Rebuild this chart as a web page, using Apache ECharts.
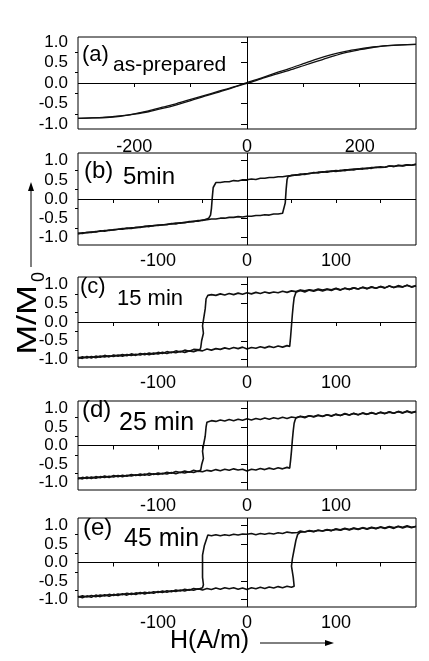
<!DOCTYPE html>
<html>
<head>
<meta charset="utf-8">
<script src="https://cdn.jsdelivr.net/npm/echarts@6/dist/echarts.min.js"></script>
<style>
  html, body { margin: 0; padding: 0; background: #fff; }
  #main { width: 429px; height: 661px; }
</style>
</head>
<body>
<div id="main"></div>
<script>
  // 面板标签
  var panelTags = ['(a)', '(b)', '(c)', '(d)', '(e)'];
  var panelNames = ['as-prepared', '5min', '15 min', '25 min', '45 min'];

  // 刻度
  var yLabelValues = [-1, -0.5, 0, 0.5, 1];
  var yMinorValues = [-0.75, -0.25, 0.25, 0.75];
  var xTicksWide = [-200, -100, 0, 100, 200];
  var xLabelsWide = [-200, 0, 200];
  var xTicksNarrow = [-150, -100, -50, 0, 50, 100, 150];
  var xLabelsNarrow = [-100, 0, 100];

  // (a) as-prepared  [H, M/M0]
  var aDescending = [[300,0.94],[275,0.93],[250,0.91],[225,0.88],[200,0.83],[175,0.77],[150,0.69],[125,0.59],[100,0.47],[75,0.35],[50,0.24],[25,0.12],[0,0.01],[-25,-0.10],[-50,-0.20],[-75,-0.30],[-100,-0.40],[-125,-0.50],[-150,-0.59],[-175,-0.68],[-200,-0.75],[-225,-0.80],[-250,-0.83],[-275,-0.85],[-300,-0.86]];
  var aAscending = [[-300,-0.86],[-275,-0.85],[-250,-0.84],[-225,-0.81],[-200,-0.76],[-175,-0.70],[-150,-0.62],[-125,-0.53],[-100,-0.43],[-75,-0.32],[-50,-0.22],[-25,-0.11],[0,-0.01],[25,0.10],[50,0.21],[75,0.31],[100,0.42],[125,0.53],[150,0.64],[175,0.74],[200,0.81],[225,0.87],[250,0.91],[275,0.93],[300,0.94]];

  // (b) 5min
  var bDescending = [[190,0.90],[185,0.88],[180,0.89],[175,0.86],[170,0.88],[165,0.85],[160,0.86],[155,0.83],[150,0.82],[145,0.83],[140,0.80],[135,0.81],[130,0.78],[125,0.79],[120,0.76],[115,0.77],[110,0.74],[105,0.75],[100,0.72],[95,0.73],[90,0.70],[85,0.71],[80,0.68],[75,0.69],[70,0.66],[65,0.66],[60,0.63],[55,0.63],[50,0.61],[45,0.60],[40,0.58],[35,0.58],[30,0.56],[25,0.56],[20,0.54],[15,0.54],[10,0.51],[5,0.52],[0,0.50],[-5,0.50],[-10,0.47],[-15,0.48],[-20,0.45],[-25,0.45],[-30,0.43],[-35,0.43],[-37,0.41],[-38,0.30],[-39,0.05],[-40,-0.25],[-41,-0.42],[-43,-0.50],[-45,-0.53],[-50,-0.56],[-55,-0.56],[-60,-0.59],[-65,-0.59],[-70,-0.62],[-75,-0.62],[-80,-0.65],[-85,-0.64],[-90,-0.67],[-95,-0.67],[-100,-0.69],[-105,-0.69],[-110,-0.72],[-115,-0.71],[-120,-0.74],[-125,-0.74],[-130,-0.77],[-135,-0.76],[-140,-0.79],[-145,-0.79],[-150,-0.81],[-155,-0.81],[-160,-0.84],[-165,-0.83],[-170,-0.86],[-175,-0.86],[-180,-0.88],[-185,-0.88],[-190,-0.91]];
  var bAscending = [[-190,-0.89],[-185,-0.90],[-180,-0.87],[-175,-0.87],[-170,-0.85],[-165,-0.84],[-160,-0.82],[-155,-0.82],[-150,-0.80],[-145,-0.79],[-140,-0.77],[-135,-0.77],[-130,-0.75],[-125,-0.75],[-120,-0.73],[-115,-0.72],[-110,-0.70],[-105,-0.70],[-100,-0.68],[-95,-0.68],[-90,-0.66],[-85,-0.65],[-80,-0.63],[-75,-0.63],[-70,-0.61],[-65,-0.60],[-60,-0.58],[-55,-0.58],[-50,-0.55],[-45,-0.54],[-40,-0.52],[-35,-0.52],[-30,-0.50],[-25,-0.50],[-20,-0.48],[-15,-0.48],[-10,-0.46],[-5,-0.47],[0,-0.45],[5,-0.45],[10,-0.43],[15,-0.43],[20,-0.41],[25,-0.42],[30,-0.39],[35,-0.39],[40,-0.37],[42,-0.35],[43,-0.10],[44,0.25],[45,0.50],[46,0.58],[48,0.61],[50,0.62],[55,0.62],[60,0.65],[65,0.64],[70,0.67],[75,0.68],[80,0.70],[85,0.70],[90,0.72],[95,0.72],[100,0.74],[105,0.73],[110,0.76],[115,0.76],[120,0.78],[125,0.78],[130,0.80],[135,0.79],[140,0.82],[145,0.82],[150,0.84],[155,0.83],[160,0.86],[165,0.85],[170,0.87],[175,0.87],[180,0.89],[185,0.88],[190,0.91]];

  // (c) 15 min
  var cDescending = [[190,0.97],[185,0.93],[180,0.98],[175,0.94],[170,0.95],[165,0.92],[160,0.96],[155,0.91],[150,0.94],[145,0.90],[140,0.93],[135,0.89],[130,0.92],[125,0.88],[120,0.91],[115,0.87],[110,0.90],[105,0.86],[100,0.90],[95,0.86],[90,0.88],[85,0.85],[80,0.88],[75,0.84],[70,0.86],[65,0.83],[60,0.85],[55,0.81],[50,0.83],[45,0.79],[40,0.82],[35,0.78],[30,0.80],[25,0.77],[20,0.80],[15,0.76],[10,0.79],[5,0.75],[0,0.78],[-5,0.74],[-10,0.77],[-15,0.73],[-20,0.76],[-25,0.72],[-30,0.75],[-35,0.71],[-40,0.73],[-44,0.71],[-46,0.62],[-47,0.35],[-49,0.05],[-50,-0.10],[-49,-0.30],[-51,-0.50],[-52,-0.68],[-53,-0.74],[-55,-0.76],[-60,-0.73],[-65,-0.78],[-70,-0.75],[-75,-0.80],[-80,-0.77],[-85,-0.82],[-90,-0.79],[-95,-0.84],[-100,-0.81],[-105,-0.86],[-110,-0.83],[-115,-0.87],[-120,-0.84],[-125,-0.89],[-130,-0.85],[-135,-0.90],[-140,-0.87],[-145,-0.91],[-150,-0.88],[-155,-0.93],[-160,-0.89],[-165,-0.94],[-170,-0.91],[-175,-0.96],[-180,-0.92],[-185,-0.97],[-190,-0.94]];
  var cAscending = [[-190,-0.97],[-185,-0.93],[-180,-0.96],[-175,-0.92],[-170,-0.95],[-165,-0.91],[-160,-0.93],[-155,-0.90],[-150,-0.92],[-145,-0.88],[-140,-0.91],[-135,-0.87],[-130,-0.89],[-125,-0.86],[-120,-0.88],[-115,-0.84],[-110,-0.87],[-105,-0.83],[-100,-0.85],[-95,-0.81],[-90,-0.84],[-85,-0.80],[-80,-0.82],[-75,-0.78],[-70,-0.81],[-65,-0.77],[-60,-0.79],[-55,-0.75],[-50,-0.77],[-45,-0.72],[-40,-0.75],[-35,-0.71],[-30,-0.73],[-25,-0.69],[-20,-0.72],[-15,-0.68],[-10,-0.71],[-5,-0.67],[0,-0.72],[5,-0.68],[10,-0.70],[15,-0.66],[20,-0.69],[25,-0.65],[30,-0.68],[35,-0.64],[40,-0.67],[45,-0.63],[48,-0.65],[49,-0.40],[50,-0.10],[51,0.20],[52,0.45],[53,0.65],[54,0.72],[55,0.79],[60,0.84],[65,0.80],[70,0.85],[75,0.82],[80,0.86],[85,0.83],[90,0.87],[95,0.84],[100,0.89],[105,0.85],[110,0.90],[115,0.87],[120,0.91],[125,0.88],[130,0.93],[135,0.89],[140,0.94],[145,0.90],[150,0.95],[155,0.91],[160,0.96],[165,0.92],[170,0.97],[175,0.93],[180,0.98],[185,0.94],[190,0.96]];

  // (d) 25 min
  var dDescending = [[190,0.92],[185,0.88],[180,0.92],[175,0.88],[170,0.91],[165,0.87],[160,0.90],[155,0.86],[150,0.89],[145,0.85],[140,0.88],[135,0.84],[130,0.87],[125,0.83],[120,0.86],[115,0.82],[110,0.85],[105,0.81],[100,0.84],[95,0.80],[90,0.83],[85,0.79],[80,0.82],[75,0.78],[70,0.80],[65,0.77],[60,0.79],[55,0.75],[50,0.77],[45,0.73],[40,0.76],[35,0.72],[30,0.75],[25,0.71],[20,0.74],[15,0.70],[10,0.73],[5,0.69],[0,0.72],[-5,0.68],[-10,0.71],[-15,0.67],[-20,0.70],[-25,0.66],[-30,0.69],[-35,0.65],[-40,0.67],[-45,0.63],[-46,0.50],[-47,0.25],[-49,0.00],[-50,-0.15],[-49,-0.35],[-51,-0.52],[-52,-0.66],[-55,-0.70],[-60,-0.67],[-65,-0.72],[-70,-0.69],[-75,-0.73],[-80,-0.70],[-85,-0.75],[-90,-0.72],[-95,-0.77],[-100,-0.74],[-105,-0.78],[-110,-0.75],[-115,-0.80],[-120,-0.77],[-125,-0.81],[-130,-0.78],[-135,-0.83],[-140,-0.80],[-145,-0.84],[-150,-0.81],[-155,-0.86],[-160,-0.82],[-165,-0.87],[-170,-0.84],[-175,-0.89],[-180,-0.85],[-185,-0.90],[-190,-0.87]];
  var dAscending = [[-190,-0.90],[-185,-0.86],[-180,-0.89],[-175,-0.85],[-170,-0.88],[-165,-0.84],[-160,-0.86],[-155,-0.83],[-150,-0.85],[-145,-0.81],[-140,-0.84],[-135,-0.80],[-130,-0.82],[-125,-0.79],[-120,-0.81],[-115,-0.77],[-110,-0.80],[-105,-0.76],[-100,-0.78],[-95,-0.75],[-90,-0.77],[-85,-0.73],[-80,-0.76],[-75,-0.72],[-70,-0.74],[-65,-0.71],[-60,-0.73],[-55,-0.69],[-50,-0.71],[-45,-0.67],[-40,-0.69],[-35,-0.65],[-30,-0.68],[-25,-0.64],[-20,-0.67],[-15,-0.63],[-10,-0.66],[-5,-0.64],[0,-0.69],[5,-0.64],[10,-0.66],[15,-0.62],[20,-0.65],[25,-0.61],[30,-0.64],[35,-0.60],[40,-0.63],[45,-0.59],[48,-0.61],[49,-0.40],[50,-0.15],[51,0.15],[52,0.40],[53,0.60],[54,0.68],[55,0.74],[60,0.78],[65,0.75],[70,0.80],[75,0.77],[80,0.81],[85,0.78],[90,0.83],[95,0.79],[100,0.84],[105,0.81],[110,0.86],[115,0.82],[120,0.87],[125,0.83],[130,0.88],[135,0.84],[140,0.89],[145,0.85],[150,0.90],[155,0.86],[160,0.91],[165,0.87],[170,0.92],[175,0.88],[180,0.93],[185,0.89],[190,0.91]];

  // (e) 45 min
  var eDescending = [[190,0.98],[185,0.94],[180,0.97],[175,0.93],[170,0.97],[165,0.92],[160,0.96],[155,0.92],[150,0.95],[145,0.91],[140,0.94],[135,0.90],[130,0.93],[125,0.89],[120,0.92],[115,0.88],[110,0.91],[105,0.87],[100,0.90],[95,0.86],[90,0.88],[85,0.85],[80,0.87],[75,0.84],[70,0.86],[65,0.82],[60,0.85],[57,0.81],[50,0.80],[45,0.82],[40,0.78],[35,0.80],[30,0.77],[25,0.79],[20,0.76],[15,0.78],[10,0.75],[5,0.78],[0,0.76],[-5,0.77],[-10,0.74],[-15,0.76],[-20,0.73],[-25,0.75],[-30,0.72],[-35,0.75],[-40,0.72],[-44,0.74],[-46,0.70],[-48,0.45],[-50,0.20],[-50,-0.10],[-50,-0.40],[-49,-0.60],[-50,-0.68],[-55,-0.72],[-60,-0.70],[-65,-0.75],[-70,-0.72],[-75,-0.77],[-80,-0.74],[-85,-0.79],[-90,-0.76],[-95,-0.81],[-100,-0.78],[-105,-0.83],[-110,-0.80],[-115,-0.85],[-120,-0.81],[-125,-0.86],[-130,-0.83],[-135,-0.88],[-140,-0.84],[-145,-0.89],[-150,-0.86],[-155,-0.91],[-160,-0.87],[-165,-0.92],[-170,-0.88],[-175,-0.94],[-180,-0.90],[-185,-0.95],[-190,-0.91]];
  var eAscending = [[-190,-0.94],[-185,-0.90],[-180,-0.93],[-175,-0.89],[-170,-0.92],[-165,-0.88],[-160,-0.90],[-155,-0.86],[-150,-0.89],[-145,-0.85],[-140,-0.87],[-135,-0.83],[-130,-0.86],[-125,-0.82],[-120,-0.84],[-115,-0.80],[-110,-0.83],[-105,-0.79],[-100,-0.81],[-95,-0.77],[-90,-0.80],[-85,-0.76],[-80,-0.78],[-75,-0.74],[-70,-0.77],[-65,-0.73],[-60,-0.75],[-55,-0.71],[-50,-0.74],[-45,-0.70],[-40,-0.73],[-35,-0.69],[-30,-0.72],[-25,-0.68],[-20,-0.71],[-15,-0.68],[-10,-0.72],[-5,-0.69],[0,-0.73],[5,-0.68],[10,-0.71],[15,-0.67],[20,-0.70],[25,-0.66],[30,-0.69],[35,-0.65],[40,-0.68],[45,-0.64],[50,-0.67],[53,-0.64],[52,-0.40],[50,-0.10],[51,0.10],[53,0.35],[55,0.60],[57,0.76],[60,0.82],[65,0.83],[70,0.85],[75,0.83],[80,0.87],[85,0.85],[90,0.89],[95,0.86],[100,0.90],[105,0.88],[110,0.92],[115,0.89],[120,0.93],[125,0.90],[130,0.94],[135,0.91],[140,0.95],[145,0.92],[150,0.96],[155,0.93],[160,0.97],[165,0.94],[170,0.98],[175,0.95],[180,0.99],[185,0.95],[190,0.97]];

  var loops = [
    [aDescending, aAscending],
    [bDescending, bAscending],
    [cDescending, cAscending],
    [dDescending, dAscending],
    [eDescending, eAscending]
  ];

  var FONT = '"Liberation Sans", Arial, sans-serif';
  // 各面板位置
  var boxTop = [37, 153, 277, 401, 518];
  var boxHeight = [92, 92, 90, 89, 89];
  var xRange = [300, 190, 190, 190, 190];
  var yRange = [1.12, 1.2, 1.2, 1.2, 1.2];

  var grids = [], xAxes = [], yAxes = [], series = [];
  for (var i = 0; i < 5; i++) {
    grids.push({
      left: 78, right: 13, top: boxTop[i], height: boxHeight[i],
      show: true, borderColor: '#000', borderWidth: 1, backgroundColor: 'transparent'
    });
    var wide = i === 0;
    xAxes.push({
      type: 'value', gridIndex: i, position: 'bottom', min: -xRange[i], max: xRange[i],
      axisLine: { show: false },
      splitLine: { show: false },
      axisTick: { show: true, length: 4, lineStyle: { color: '#000' },
        customValues: wide ? xTicksWide : xTicksNarrow },
      axisLabel: { show: true, margin: wide ? 9 : 7, color: '#000', fontSize: 18, fontFamily: FONT,
        customValues: wide ? xLabelsWide : xLabelsNarrow }
    });
    // 主刻度
    yAxes.push({
      type: 'value', gridIndex: i, position: 'left', min: -yRange[i], max: yRange[i],
      axisLine: { show: false },
      splitLine: { show: false },
      axisTick: { show: true, length: 6, lineStyle: { color: '#000' }, customValues: yLabelValues },
      axisLabel: { show: true, margin: 10, color: '#000', fontSize: 17, fontFamily: FONT,
        customValues: yLabelValues,
        formatter: function (v) { return v.toFixed(1); } }
    });
    // 次刻度
    yAxes.push({
      type: 'value', gridIndex: i, position: 'left', offset: 0, min: -yRange[i], max: yRange[i],
      axisLine: { show: false },
      splitLine: { show: false },
      axisLabel: { show: false },
      axisTick: { show: true, length: 3, lineStyle: { color: '#000' }, customValues: yMinorValues }
    });
    for (var k = 0; k < 2; k++) {
      var s = {
        type: 'line', xAxisIndex: i, yAxisIndex: i * 2,
        data: loops[i][k], symbol: 'none', silent: true,
        smooth: wide ? 0.3 : false,
        lineStyle: { color: '#111', width: wide ? 1.3 : 1.6 }
      };
      if (k === 0) {
        s.markLine = {
          silent: true, symbol: ['none', 'none'], label: { show: false },
          lineStyle: { color: '#000', width: 1, type: 'solid' },
          data: [{ yAxis: 0 }, { xAxis: 0 }]
        };
      }
      series.push(s);
    }
  }

  function label(x, y, text, size, extra) {
    var el = {
      type: 'text', x: x, y: y, silent: true,
      style: { text: text, fill: '#000', fontSize: size, fontFamily: FONT, align: 'left', verticalAlign: 'middle' }
    };
    for (var key in extra) el[key] = extra[key];
    return el;
  }

  var graphics = [
    label(82, 55, panelTags[0], 22),
    label(113, 65, panelNames[0], 21),
    label(84, 171, panelTags[1], 24),
    label(123, 177, panelNames[1], 24),
    label(80, 287, panelTags[2], 22),
    label(117, 299, panelNames[2], 22),
    label(82, 410, panelTags[3], 24),
    label(119, 423, panelNames[3], 25),
    label(83, 528, panelTags[4], 24),
    label(124, 539, panelNames[4], 25),
    label(170, 641, 'H(A/m)', 25),
    label(28, 320, 'M/M', 28, { rotation: Math.PI / 2, scaleX: 1.28 }),
    label(39, 277, '0', 18, { rotation: Math.PI / 2 }),
    { type: 'line', silent: true, shape: { x1: 260, y1: 643, x2: 326, y2: 643 }, style: { stroke: '#000', lineWidth: 1 } },
    { type: 'polygon', silent: true, shape: { points: [[334, 643], [325, 640], [325, 646]] }, style: { fill: '#000' } },
    { type: 'line', silent: true, shape: { x1: 31, y1: 267, x2: 31, y2: 190 }, style: { stroke: '#000', lineWidth: 1 } },
    { type: 'polygon', silent: true, shape: { points: [[31, 182], [28, 191], [34, 191]] }, style: { fill: '#000' } }
  ];
  // 文字居中对齐
  graphics[11].style.align = 'center';
  graphics[12].style.align = 'center';

  var myChart = echarts.init(document.getElementById('main'));
  var option = {
    animation: false,
    backgroundColor: '#fff',
    grid: grids,
    xAxis: xAxes,
    yAxis: yAxes,
    series: series,
    graphic: graphics
  };
  myChart.setOption(option);
</script>
</body>
</html>
